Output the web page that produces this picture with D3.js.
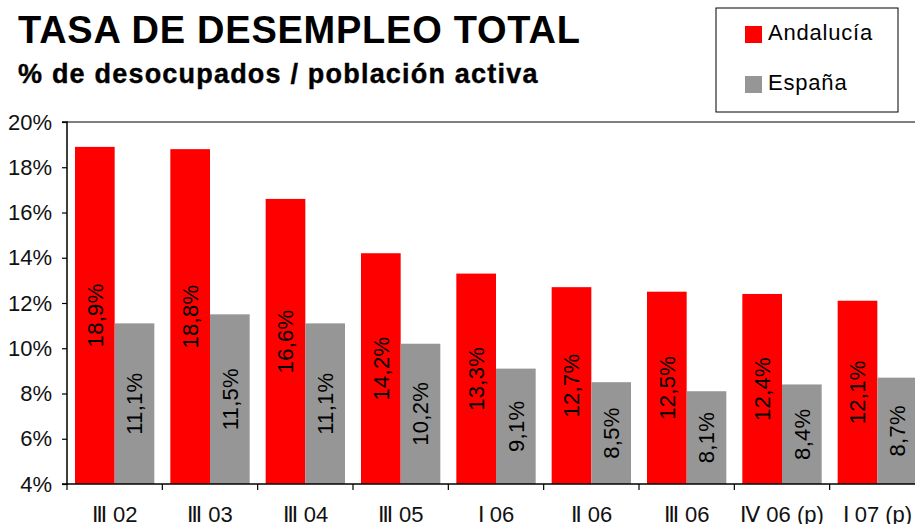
<!DOCTYPE html>
<html><head><meta charset="utf-8">
<script src="https://cdn.jsdelivr.net/npm/d3@7"></script>
<style>
html,body{margin:0;padding:0;background:#fff;}
svg{display:block;font-family:"Liberation Sans",Arial,sans-serif;}
</style></head>
<body><svg id="c" width="915" height="524"></svg>
<script>
const categories = ["Ⅲ 02","Ⅲ 03","Ⅲ 04","Ⅲ 05","Ⅰ 06","Ⅱ 06","Ⅲ 06","Ⅳ 06 (p)","Ⅰ 07 (p)"];
const seriesNames = ["Andalucía","España"];
const andalucia = [18.9,18.8,16.6,14.2,13.3,12.7,12.5,12.4,12.1];
const espana = [11.1,11.5,11.1,10.2,9.1,8.5,8.1,8.4,8.7];
const yTicks = [4,6,8,10,12,14,16,18,20];
const colors = ["#ff0000","#969696"];
const title = "TASA DE DESEMPLEO TOTAL";
const subtitle = "% de desocupados / población activa";

const svg = d3.select("#c");
const pL = 67, pR = 925, pT = 122, pB = 484;

const x0 = d3.scaleBand().domain(categories).range([pL, pR]).padding(0);
const step = x0.bandwidth();
const x1 = d3.scaleBand().domain(seriesNames).range([8, step - 8]).padding(0);
const y = d3.scaleLinear().domain([4, 20]).range([pB, pT]);

svg.append("text").attr("x", 18).attr("y", 43).attr("font-size", 38).attr("font-weight", "bold")
  .attr("letter-spacing", 0.75).attr("fill", "#000").text(title);
svg.append("text").attr("x", 18).attr("y", 83).attr("font-size", 27).attr("font-weight", "bold")
  .attr("letter-spacing", 1.2).attr("fill", "#000").attr("stroke", "#000").attr("stroke-width", 0.4).text(subtitle);

// plot top border
svg.append("line").attr("x1", pL).attr("x2", 915).attr("y1", pT).attr("y2", pT)
  .attr("stroke", "#000").attr("stroke-width", 1.2);

const data = categories.map((c, i) => ({c, vals: [andalucia[i], espana[i]]}));
const g = svg.append("g");
const groups = g.selectAll("g.grp").data(data).join("g").attr("class","grp")
  .attr("transform", d => `translate(${x0(d.c)},0)`);
groups.selectAll("rect").data(d => d.vals.map((v, k) => ({v, s: seriesNames[k], k})))
  .join("rect")
  .attr("x", d => x1(d.s)).attr("width", x1.bandwidth())
  .attr("y", d => y(d.v)).attr("height", d => y(4) - y(d.v))
  .attr("fill", d => colors[d.k]);
groups.selectAll("text").data(d => d.vals.map((v, k) => ({v, s: seriesNames[k], k})))
  .join("text")
  .attr("transform", d => `translate(${x1(d.s) + x1.bandwidth()/2},${(y(d.v) + y(4))/2}) rotate(-90)`)
  .attr("text-anchor", "middle").attr("dy", "0.36em")
  .attr("font-size", 22).attr("letter-spacing", 0.3).attr("fill", "#000")
  .text(d => d3.format(".1f")(d.v).replace(".", ",") + "%");

// y axis
const yAxis = d3.axisLeft(y).tickValues(yTicks).tickSize(5).tickPadding(10)
  .tickFormat(d => d + "%");
const ya = svg.append("g").attr("transform", `translate(${pL},0)`).call(yAxis);
ya.select(".domain").attr("stroke", "#000").attr("stroke-width", 1.5).attr("d", `M-5,${pT}H0V${pB}H-5`);
ya.selectAll(".tick line").attr("stroke", "#000").attr("stroke-width", 1.2);
ya.selectAll(".tick text").attr("font-size", 22).attr("fill", "#111").attr("font-family", "Liberation Sans, Arial, sans-serif");

// x axis
const xa = svg.append("g").attr("transform", `translate(0,${pB})`)
  .call(d3.axisBottom(x0).tickSize(0).tickPadding(22));
xa.select(".domain").attr("stroke", "#000").attr("stroke-width", 1.5).attr("d", `M${pL},0H915`);
xa.selectAll(".tick text").attr("font-size", 22).attr("fill", "#111").attr("font-family", "Liberation Sans, Arial, sans-serif");
// boundary ticks
const bounds = categories.map(c => x0(c));
xa.selectAll("line.bt").data(bounds).join("line").attr("class","bt")
  .attr("x1", d => d).attr("x2", d => d).attr("y1", 0).attr("y2", 6)
  .attr("stroke", "#000").attr("stroke-width", 1.2);

// legend
const lg = svg.append("g");
lg.append("rect").attr("x", 716).attr("y", 8).attr("width", 182).attr("height", 104)
  .attr("fill", "#fff").attr("stroke", "#000").attr("stroke-width", 1);
seriesNames.forEach((n, i) => {
  lg.append("rect").attr("x", 745).attr("y", 26 + i*50).attr("width", 17).attr("height", 17).attr("fill", colors[i]);
  lg.append("text").attr("x", 768).attr("y", 40 + i*50).attr("font-size", 22).attr("letter-spacing", 0.8).attr("fill", "#000").text(n);
});
</script></body></html>
